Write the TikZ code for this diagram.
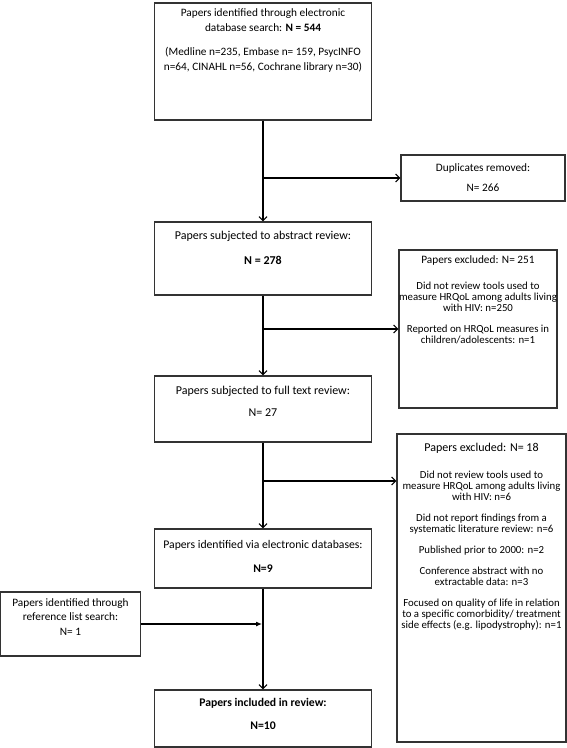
\documentclass[tikz,border=0pt]{standalone}
\usepackage{fontspec}
\setmainfont{Carlito}
\usetikzlibrary{arrows.meta}
\begin{document}
\begin{tikzpicture}[x=1pt,y=-1pt,
  box/.style={draw=black!80, line width=1.2pt, inner sep=0pt},
  txt/.style={anchor=north, inner sep=0pt, align=center, font=\fontsize{11.3}{14}\selectfont},
  small/.style={font=\fontsize{10.8}{11}\selectfont},
  conn/.style={line width=1.1pt, -{Straight Barb[length=4pt,width=8pt,line width=1.1pt]}},
  feed/.style={line width=1.1pt, -{Latex[length=6pt,width=5pt]}}
]
\useasboundingbox (0,0) rectangle (567,748);
% boxes
\node[box, minimum width=217pt, minimum height=117pt] (top) at (263,61.5) {};
\node[box, minimum width=164pt, minimum height=46pt] (dup) at (483,178) {};
\node[box, minimum width=217pt, minimum height=73pt] (abs) at (263,258.5) {};
\node[box, minimum width=158pt, minimum height=158pt] (exa) at (478,329) {};
\node[box, minimum width=217pt, minimum height=66pt] (full) at (263,409) {};
\node[box, minimum width=169pt, minimum height=308pt] (exb) at (481.5,588) {};
\node[box, minimum width=217pt, minimum height=59pt] (edb) at (263,558.5) {};
\node[box, minimum width=140pt, minimum height=64pt] (ref) at (70.5,624) {};
\node[box, minimum width=217pt, minimum height=57pt] (inc) at (263,718.5) {};
% texts
\node[txt, font=\fontsize{11.3}{15.5}\selectfont] (topt) at ([yshift=-6pt]top.north) {Papers identified through electronic\\database search: \textbf{N = 544}\\[8pt](Medline n=235, Embase n= 159, PsycINFO\\n=64, CINAHL n=56, Cochrane library n=30)};
\node[txt] (dupt) at ([yshift=-9pt]dup.north) {Duplicates removed:\\[6pt]N= 266};
\node[txt, font=\fontsize{12}{14}\selectfont] (abst) at ([yshift=-10pt]abs.north) {Papers subjected to abstract review:\\[11pt]\textbf{N = 278}};
\node[txt, small] (exat) at ([yshift=-6pt]exa.north) {{\fontsize{11.3}{11}\selectfont Papers excluded: N= 251}\\[15pt]Did not review tools used to\\measure HRQoL among adults living\\with HIV: n=250\\[10pt]Reported on HRQoL measures in\\children/adolescents: n=1};
\node[txt, font=\fontsize{12}{14}\selectfont] (fullt) at ([yshift=-11pt]full.north) {Papers subjected to full text review:\\[8pt]N= 27};
\node[txt, small] (exbt) at ([yshift=-10pt]exb.north) {{\fontsize{12}{11}\selectfont Papers excluded: N= 18}\\[16pt]Did not review tools used to\\measure HRQoL among adults living\\with HIV: n=6\\[10pt]Did not report findings from a\\systematic literature review: n=6\\[10pt]Published prior to 2000: n=2\\[10pt]Conference abstract with no\\extractable data: n=3\\[10pt]Focused on quality of life in relation\\to a specific comorbidity/ treatment\\side effects (e.g. lipodystrophy): n=1};
\node[txt, font=\fontsize{11.7}{14}\selectfont] (edbt) at ([yshift=-12pt]edb.north) {Papers identified via electronic databases:\\[10pt]\textbf{N=9}};
\node[txt, font=\fontsize{11.3}{14.5}\selectfont] (reft) at ([yshift=-7pt]ref.north) {Papers identified through\\reference list search:\\N= 1};
\node[txt, font=\fontsize{11.7}{14}\selectfont] (inct) at ([yshift=-9pt]inc.north) {\textbf{Papers included in review:}\\[9pt]\textbf{N=10}};
% connectors
\coordinate (b1) at (top.south |- dup.west);
\coordinate (b2) at (abs.south |- exa.west);
\coordinate (b3) at (262,481);
\coordinate (b4) at (edb.south |- ref.east);
\draw[conn] (top.south) -- (abs.north);
\draw[conn] (b1) -- (dup.west);
\draw[conn] (abs.south) -- (full.north);
\draw[conn] (b2) -- (exa.west);
\draw[conn] (full.south) -- (edb.north);
\draw[conn] (b3) -- (b3 -| exb.west);
\draw[conn] (edb.south) -- (inc.north);
\draw[feed] (ref.east) -- ([xshift=-1pt]b4);
\end{tikzpicture}
\end{document}
